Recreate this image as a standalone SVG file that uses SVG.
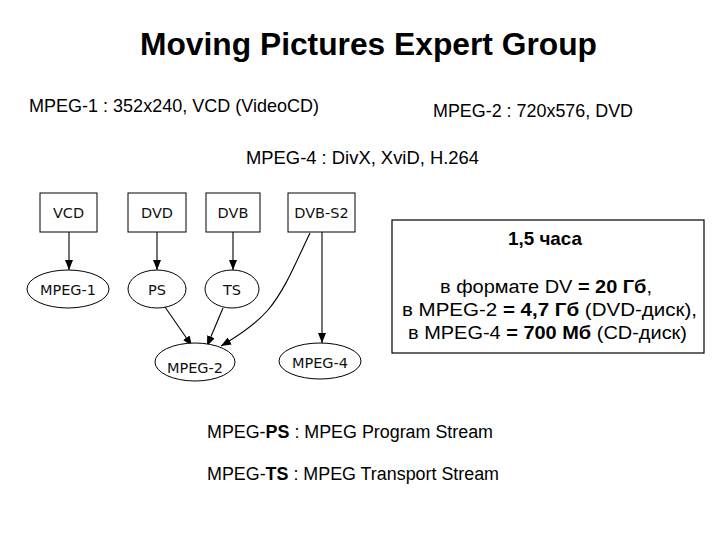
<svg xmlns="http://www.w3.org/2000/svg" width="720" height="540" viewBox="0 0 720 540">
<defs>
<style>
.t{font-family:"Liberation Sans",Arial,sans-serif;fill:#000}
.n{font-family:"DejaVu Sans",Verdana,sans-serif;font-size:14.5px;fill:#111;text-anchor:middle}
.shape{fill:#fff;stroke:#000;stroke-width:1}
.e{fill:none;stroke:#000;stroke-width:1.1}
.b{font-weight:bold}
</style>
<marker id="ah" viewBox="0 0 10 8" refX="10" refY="4" markerWidth="10" markerHeight="8" markerUnits="userSpaceOnUse" orient="auto">
<path d="M0,0 L10,4 L0,8 Z" fill="#000"/>
</marker>
</defs>
<rect width="720" height="540" fill="#fff"/>
<text class="t b" x="368.5" y="55" font-size="31" text-anchor="middle" textLength="457" lengthAdjust="spacingAndGlyphs">Moving Pictures Expert Group</text>
<text class="t" x="29" y="112" font-size="18.5" textLength="290" lengthAdjust="spacingAndGlyphs">MPEG-1 : 352x240, VCD (VideoCD)</text>
<text class="t" x="433" y="117" font-size="18.5" textLength="200" lengthAdjust="spacingAndGlyphs">MPEG-2 : 720x576, DVD</text>
<text class="t" x="246" y="164" font-size="18.5" textLength="233" lengthAdjust="spacingAndGlyphs">MPEG-4 : DivX, XviD, H.264</text>

<g id="edges">
<path class="e" d="M69,232 L69,270" marker-end="url(#ah)"/>
<path class="e" d="M157,232 L157,270" marker-end="url(#ah)"/>
<path class="e" d="M233,232 L233,270" marker-end="url(#ah)"/>
<path class="e" d="M165,307 L192,346" marker-end="url(#ah)"/>
<path class="e" d="M223,308 L207,346" marker-end="url(#ah)"/>
<path class="e" d="M310,233 C296,262 285,290 268,310 C255,325 240,335 221,346" marker-end="url(#ah)"/>
<path class="e" d="M322,232 L322,343" marker-end="url(#ah)"/>
</g>

<g id="VCD"><rect class="shape" x="40" y="193" width="57" height="39"/><text class="n" x="68.5" y="218">VCD</text></g>
<g id="DVD"><rect class="shape" x="128" y="193" width="58" height="39"/><text class="n" x="157" y="218">DVD</text></g>
<g id="DVB"><rect class="shape" x="206" y="193" width="54" height="39"/><text class="n" x="233" y="218">DVB</text></g>
<g id="DVB-S2"><rect class="shape" x="288" y="193" width="67" height="39"/><text class="n" x="321.5" y="218">DVB-S2</text></g>
<g id="MPEG-1"><ellipse class="shape" cx="68" cy="289" rx="41" ry="19"/><text class="n" x="68" y="295">MPEG-1</text></g>
<g id="PS"><ellipse class="shape" cx="157" cy="289" rx="29" ry="19"/><text class="n" x="157" y="295">PS</text></g>
<g id="TS"><ellipse class="shape" cx="232" cy="289" rx="27" ry="19"/><text class="n" x="232" y="295">TS</text></g>
<g id="MPEG-2"><ellipse class="shape" cx="195" cy="362" rx="40" ry="19"/><text class="n" x="195" y="373">MPEG-2</text></g>
<g id="MPEG-4"><ellipse class="shape" cx="320" cy="361" rx="41" ry="18"/><text class="n" x="320" y="368">MPEG-4</text></g>

<g id="info">
<rect x="392" y="220" width="312" height="133" fill="#fff" stroke="#000" stroke-width="1.2"/>
<text class="t b" x="545" y="245" font-size="18.5" text-anchor="middle" textLength="74" lengthAdjust="spacingAndGlyphs">1,5 часа</text>
<text class="t" x="546" y="293" font-size="18" text-anchor="middle" textLength="212" lengthAdjust="spacingAndGlyphs">в формате DV <tspan class="b">= 20 Гб</tspan>,</text>
<text class="t" x="549.5" y="316" font-size="18.5" text-anchor="middle" textLength="295" lengthAdjust="spacingAndGlyphs">в MPEG-2 <tspan class="b">= 4,7 Гб</tspan> (DVD-диск),</text>
<text class="t" x="547.5" y="339" font-size="18.5" text-anchor="middle" textLength="279" lengthAdjust="spacingAndGlyphs">в MPEG-4 <tspan class="b">= 700 Мб</tspan> (CD-диск)</text>
</g>

<text class="t" x="207" y="438" font-size="18" textLength="286" lengthAdjust="spacingAndGlyphs">MPEG-<tspan class="b">PS</tspan> : MPEG Program Stream</text>
<text class="t" x="207" y="480" font-size="18" textLength="292" lengthAdjust="spacingAndGlyphs">MPEG-<tspan class="b">TS</tspan> : MPEG Transport Stream</text>
</svg>
